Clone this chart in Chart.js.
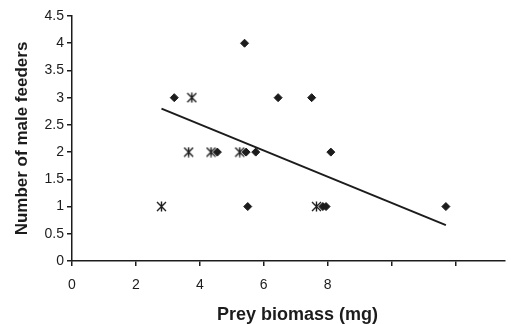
<!DOCTYPE html>
<html>
<head>
<meta charset="utf-8">
<script src="https://cdn.jsdelivr.net/npm/chart.js@4.4.1/dist/chart.umd.min.js"></script>
<style>
  html, body { margin: 0; padding: 0; background: #fff; }
  #wrap { width: 511px; height: 324px; }
</style>
</head>
<body>
<div id="wrap"><canvas id="chart"></canvas></div>
<script>
// Values
const diamondX = [3.2, 4.55, 5.4, 5.5, 5.45, 5.75, 6.45, 7.5, 7.85, 7.95, 8.1, 11.7];
const diamondY = [3, 2, 4, 1, 2, 2, 3, 3, 1, 1, 2, 1];
const starX = [2.8, 3.65, 3.75, 4.35, 5.25, 7.65];
const starY = [1, 2, 3, 2, 2, 1];
const fitX = [2.8, 11.7];
const fitY = [2.8, 0.66];
const xTicks = [0, 2, 4, 6, 8, 10, 12];
const xLabelled = [0, 2, 4, 6, 8];
const xMax = 13.55; // original figure is cropped on the right, just short of 14

const INK = '#1c1c1c';
Chart.defaults.font.family = '"Liberation Sans", Arial, sans-serif';
Chart.defaults.color = INK;

// asterisk-like marker: vertical stroke plus two diagonals
function makeStar() {
    const c = document.createElement('canvas');
    c.width = 11; c.height = 11;
    const g = c.getContext('2d');
    g.strokeStyle = INK;
    g.lineWidth = 1.4;
    g.beginPath();
    g.moveTo(5.5, 0.5); g.lineTo(5.5, 10.5);
    g.moveTo(1, 1); g.lineTo(10, 10);
    g.moveTo(10, 1); g.lineTo(1, 10);
    g.stroke();
    return c;
}

const pts = (xs, ys) => xs.map((x, i) => ({ x, y: ys[i] }));

new Chart(document.getElementById('chart'), {
    type: 'scatter',
    data: {
        datasets: [
            {
                data: pts(diamondX, diamondY),
                pointStyle: 'rectRot',
                pointRadius: 4,
                backgroundColor: INK,
                borderColor: INK,
                borderWidth: 1
            },
            {
                data: pts(starX, starY),
                pointStyle: makeStar(),
                pointRadius: 5
            },
            {
                type: 'line',
                data: pts(fitX, fitY),
                borderColor: INK,
                borderWidth: 2,
                pointRadius: 0,
                fill: false
            }
        ]
    },
    options: {
        responsive: true,
        maintainAspectRatio: false,
        animation: false,
        layout: { padding: { top: 16, left: 0, right: 0, bottom: 0 } },
        plugins: { legend: { display: false }, tooltip: { enabled: false } },
        scales: {
            x: {
                type: 'linear',
                min: 0,
                max: xMax,
                grid: { display: true, drawOnChartArea: false, tickLength: 5, color: INK, lineWidth: 1.5 },
                border: { color: INK, width: 1.5 },
                ticks: {
                    padding: 11,
                    maxRotation: 0,
                    autoSkip: false,
                    font: { size: 14 },
                    callback: v => xLabelled.includes(v) ? String(v) : ''
                },
                afterBuildTicks: s => { s.ticks = xTicks.map(v => ({ value: v })); },
                title: {
                    display: true,
                    // leading em space nudges the centred title right, as in the original
                    text: '\u2003Prey biomass (mg)',
                    font: { size: 18, weight: 'bold' },
                    padding: { top: 10, bottom: -2 }
                },
                afterFit: s => { s.height = 63; }
            },
            y: {
                min: 0,
                max: 4.5,
                grid: { display: true, drawOnChartArea: false, tickLength: 5, color: INK, lineWidth: 1.5 },
                border: { color: INK, width: 1.5 },
                ticks: {
                    stepSize: 0.5,
                    padding: 3,
                    font: { size: 14 },
                    callback: v => String(v)
                },
                title: {
                    display: true,
                    text: 'Number of male feeders',
                    font: { size: 17, weight: 'bold' },
                    padding: { top: 12, bottom: 4 }
                },
                afterFit: s => { s.width = 72; }
            }
        }
    }
});
</script>
</body>
</html>
